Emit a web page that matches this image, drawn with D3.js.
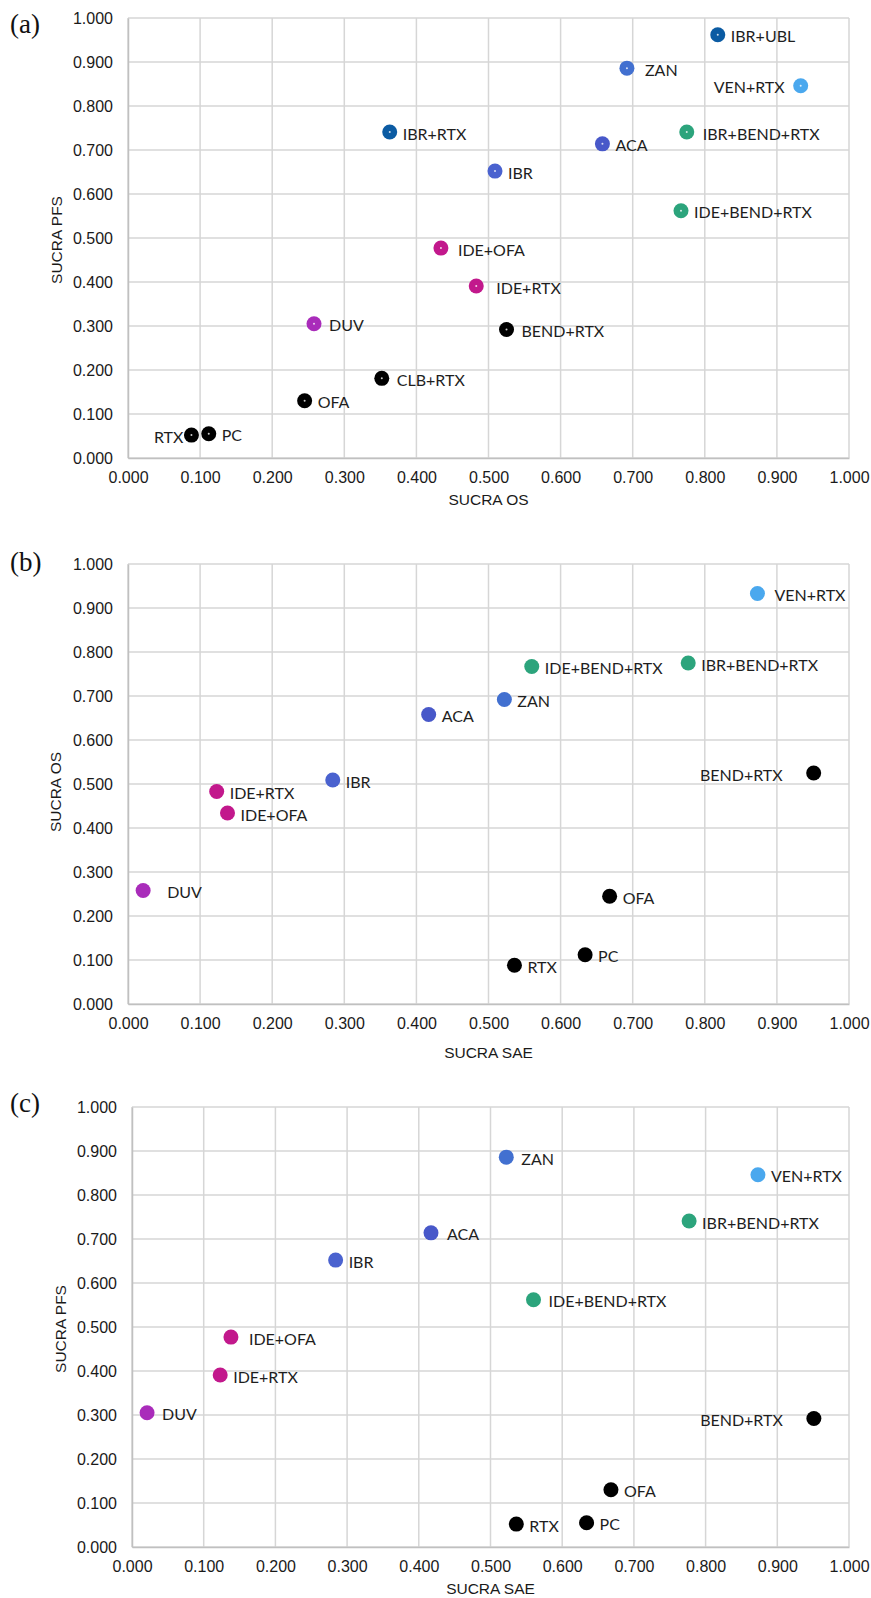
<!DOCTYPE html>
<html>
<head>
<meta charset="utf-8">
<script src="https://cdn.jsdelivr.net/npm/d3@7"></script>
<style>
  body { margin: 0; background: #fff; }
  .tick text { font-family: "Liberation Sans", Arial, sans-serif; font-size: 16px; fill: #1a1a1a; }
  .pt-label { font-family: Lato, "Open Sans", sans-serif; font-size: 16px; fill: #1e1e1e; }
  .ax-title { font-family: "Liberation Sans", Arial, sans-serif; font-size: 15.5px; fill: #1a1a1a; }
  .panel-tag { font-family: "Liberation Serif", "DejaVu Serif", serif; font-size: 27px; fill: #111; }
</style>
</head>
<body>
<div id="chart"></div>
<script>
// SUCRA values per treatment
const treatments = ["RTX", "PC", "OFA", "CLB+RTX", "DUV", "IDE+OFA", "IDE+RTX", "BEND+RTX",
  "IBR", "IBR+RTX", "ACA", "ZAN", "IBR+UBL", "VEN+RTX", "IBR+BEND+RTX", "IDE+BEND+RTX"];
const sucraOS  = [0.088, 0.112, 0.245, 0.352, 0.258, 0.434, 0.483, 0.525,
  0.509, 0.363, 0.658, 0.692, 0.818, 0.933, 0.775, 0.767];
const sucraPFS = [0.052, 0.055, 0.130, 0.181, 0.305, 0.477, 0.391, 0.292,
  0.652, 0.741, 0.714, 0.886, 0.962, 0.846, 0.741, 0.562];
// no SAE estimate for CLB+RTX, IBR+RTX, IBR+UBL
const sucraSAE = [0.536, 0.634, 0.668, null, 0.021, 0.138, 0.123, 0.951,
  0.284, null, 0.417, 0.522, null, 0.873, 0.777, 0.560];
const tickValues = [0, 0.1, 0.2, 0.3, 0.4, 0.5, 0.6, 0.7, 0.8, 0.9, 1.0];

// marker colours by drug class
const colorOf = {
  "RTX": "#000", "PC": "#000", "OFA": "#000", "CLB+RTX": "#000", "BEND+RTX": "#000",
  "DUV": "#a92cba", "IDE+OFA": "#c2188c", "IDE+RTX": "#c2188c",
  "IBR": "#4a62cf", "ACA": "#4858c9", "ZAN": "#4270d0",
  "IBR+RTX": "#0b5ba3", "IBR+UBL": "#0b5ba3",
  "VEN+RTX": "#4aa8ee",
  "IBR+BEND+RTX": "#2ca47c", "IDE+BEND+RTX": "#2ca47c"
};

const rows = treatments.map((name, i) => ({
  name, os: sucraOS[i], pfs: sucraPFS[i], sae: sucraSAE[i]
}));

const panels = [
  { tag: "(a)", tagY: 33, xKey: "os", yKey: "pfs", xTitle: "SUCRA OS", yTitle: "SUCRA PFS",
    left: 128, right: 849, top: 18, bottom: 458, yTitleX: 57, yTitleY: 240, xTitleY: 505,
    dot: "#fff",
    labels: { "RTX": [-8, "end"], "VEN+RTX": [-16, "end"], "ZAN": [18], "IDE+RTX": [20],
      "IDE+OFA": [17], "DUV": [15], "BEND+RTX": [15], "CLB+RTX": [15], "IBR+BEND+RTX": [16] } },
  { tag: "(b)", tagY: 571, xKey: "sae", yKey: "os", xTitle: "SUCRA SAE", yTitle: "SUCRA OS",
    left: 128, right: 849, top: 564, bottom: 1004, yTitleX: 56, yTitleY: 792, xTitleY: 1058,
    dot: null,
    labels: { "BEND+RTX": [-31, "end"], "DUV": [24], "VEN+RTX": [17] } },
  { tag: "(c)", tagY: 1112, xKey: "sae", yKey: "pfs", xTitle: "SUCRA SAE", yTitle: "SUCRA PFS",
    left: 132, right: 849, top: 1107, bottom: 1547, yTitleX: 61, yTitleY: 1329, xTitleY: 1594,
    dot: null,
    labels: { "BEND+RTX": [-31, "end"], "IDE+OFA": [18], "ZAN": [15], "ACA": [16],
      "IDE+BEND+RTX": [15], "DUV": [15] } }
];

const width = 871, height = 1598;
const svg = d3.select("#chart").append("svg")
  .attr("width", width).attr("height", height);

panels.forEach((p) => {
  const g = svg.append("g");
  const x = d3.scaleLinear().domain([0, 1]).range([p.left, p.right]);
  const y = d3.scaleLinear().domain([0, 1]).range([p.bottom, p.top]);

  // grid
  g.selectAll(".vgrid").data(tickValues).enter().append("line")
    .attr("x1", (d) => x(d)).attr("x2", (d) => x(d))
    .attr("y1", p.top).attr("y2", p.bottom)
    .attr("stroke", "#d6d6d6").attr("stroke-width", 1.5);
  g.selectAll(".hgrid").data(tickValues).enter().append("line")
    .attr("x1", p.left).attr("x2", p.right)
    .attr("y1", (d) => y(d)).attr("y2", (d) => y(d))
    .attr("stroke", "#d6d6d6").attr("stroke-width", 1.5);

  // axes
  const fmt = d3.format(".3f");
  g.append("g").attr("transform", `translate(0,${p.bottom})`)
    .call(d3.axisBottom(x).tickValues(tickValues).tickFormat(fmt).tickSize(0).tickPadding(14))
    .call((a) => a.select(".domain").attr("stroke", "#c0c0c0").attr("stroke-width", 1.5));
  g.append("g").attr("transform", `translate(${p.left},0)`)
    .call(d3.axisLeft(y).tickValues(tickValues).tickFormat(fmt).tickSize(0).tickPadding(15))
    .call((a) => a.select(".domain").attr("stroke", "#c0c0c0").attr("stroke-width", 1.5));

  // titles
  g.append("text").attr("class", "ax-title")
    .attr("x", (p.left + p.right) / 2).attr("y", p.xTitleY)
    .attr("text-anchor", "middle").text(p.xTitle);
  g.append("text").attr("class", "ax-title")
    .attr("transform", `translate(${p.yTitleX},${p.yTitleY}) rotate(-90)`)
    .attr("text-anchor", "middle").attr("dy", "0.35em").text(p.yTitle);
  g.append("text").attr("class", "panel-tag")
    .attr("x", 10).attr("y", p.tagY).text(p.tag);

  const pts = rows.filter((d) => d[p.xKey] != null && d[p.yKey] != null);

  g.selectAll(".pt").data(pts).enter().append("circle")
    .attr("cx", (d) => x(d[p.xKey])).attr("cy", (d) => y(d[p.yKey]))
    .attr("r", 7.5).attr("fill", (d) => colorOf[d.name]);

  if (p.dot) {
    g.selectAll(".dot").data(pts).enter().append("circle")
      .attr("cx", (d) => x(d[p.xKey])).attr("cy", (d) => y(d[p.yKey]))
      .attr("r", 1).attr("fill", p.dot).attr("opacity", 0.8);
  }

  g.selectAll(".pt-label").data(pts).enter().append("text")
    .attr("class", "pt-label")
    .attr("x", (d) => x(d[p.xKey]) + ((p.labels[d.name] || [13])[0]))
    .attr("y", (d) => y(d[p.yKey]) + 2)
    .attr("dy", "0.35em")
    .attr("text-anchor", (d) => (p.labels[d.name] || [])[1] || "start")
    .text((d) => d.name);
});
</script>
</body>
</html>
